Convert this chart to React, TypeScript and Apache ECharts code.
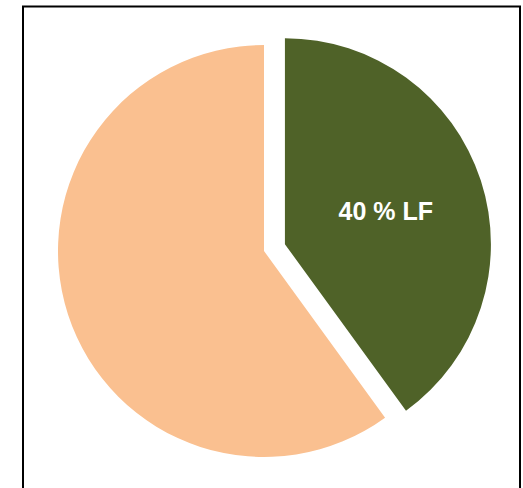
import React, { useEffect, useRef } from "react";
import * as echarts from "echarts";

const categories = ["LF", "Rest"];
const values = [40, 60];
const colors = ["#4F6228", "#FAC090"];
const labelled = [true, false];

export default function App() {
  const ref = useRef<HTMLDivElement>(null);
  useEffect(() => {
    if (!ref.current) return;
    const chart = echarts.init(ref.current, null, { renderer: "svg" });
    chart.setOption({
      animation: false,
      graphic: [
        {
          type: "rect",
          shape: { x: 23, y: 6.5, width: 497, height: 520 },
          style: { fill: "none", stroke: "#000", lineWidth: 2 },
          silent: true,
          z: 10,
        },
      ],
      series: [
        {
          type: "pie",
          center: [264, 251],
          radius: 206,
          startAngle: 90,
          clockwise: true,
          selectedMode: "single",
          selectedOffset: 22,
          emphasis: { disabled: true },
          labelLine: { show: false },
          data: categories.map((c, i) => ({
            name: c,
            value: values[i],
            selected: i === 0,
            itemStyle: { color: colors[i] },
            label: {
              show: labelled[i],
              position: "inside",
              formatter: (p: any) => `${p.value} % ${p.name}`,
              color: "#fff",
              fontFamily: "Liberation Sans",
              fontWeight: "bold",
              fontSize: 25,
              offset: [5, -2],
            },
          })),
        },
      ],
    });
    return () => chart.dispose();
  }, []);
  return (
    <div
      ref={ref}
      style={{ position: "fixed", left: 0, top: 0, width: 523, height: 488, background: "#fff" }}
    />
  );
}
